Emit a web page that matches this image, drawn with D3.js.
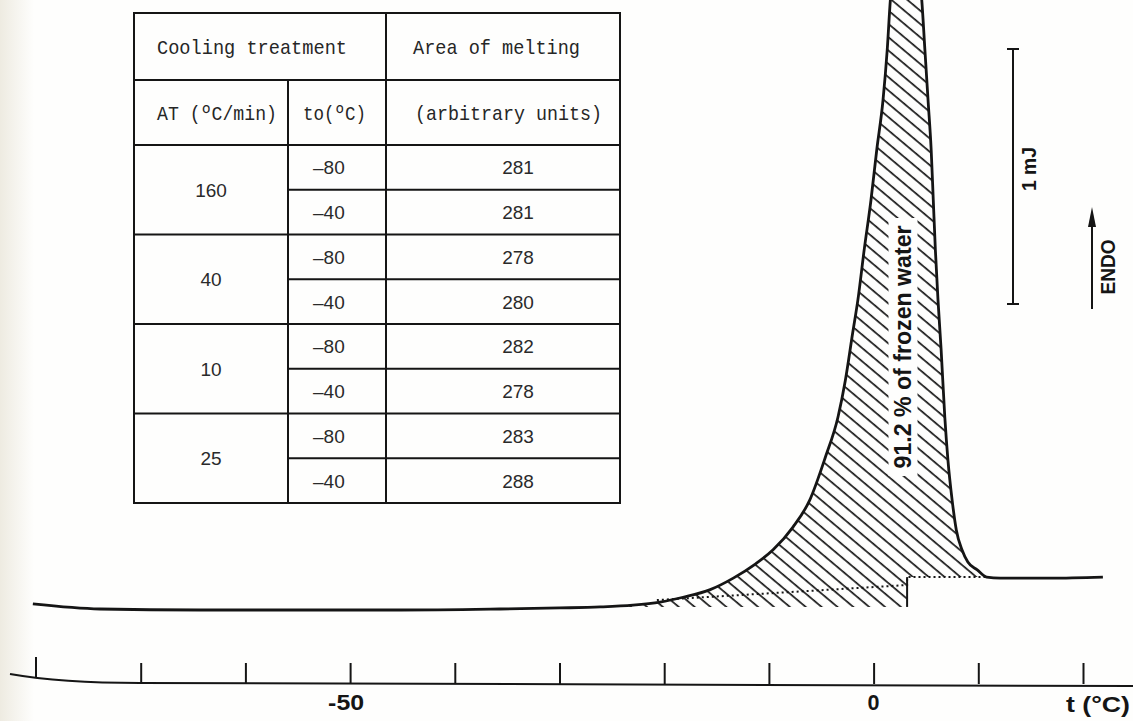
<!DOCTYPE html>
<html>
<head>
  <meta charset="utf-8">
  <title>DSC melting curve</title>
  <script src="https://d3js.org/d3.v7.min.js"></script>
  <style>
    body { margin: 0; background: #fefefd; }
    svg { display: block; }
  </style>
</head>
<body>
  <script>
    // melting endotherm (temperature in degC, heat flow in units of the 1 mJ bar)
    var curveTemps = [-80.3, -73.9, -64.3, -54.8, -45.2, -35.7, -30.0, -26.1, -23.0, -20.4,
      -18.2, -15.6, -13.4, -11.3, -9.6, -7.7, -6.1, -4.6, -3.4, -2.7,
      -2.0, -1.5, -0.9, -0.25, 0.3, 0.9, 1.3, 1.6, 2.0, 3.1,
      4.05, 4.6, 4.9, 5.2, 5.5, 5.7, 5.9, 6.15, 6.45, 6.8,
      7.1, 7.5, 7.9, 8.45, 9.0, 9.9, 10.8, 12.1, 16.9, 21.9];
    var curveHeat = [0.024, 0.004, 0, 0, 0, 0.004, 0.008, 0.012, 0.019, 0.031,
      0.050, 0.080, 0.125, 0.180, 0.236, 0.325, 0.431, 0.600, 0.757, 0.900,
      1.086, 1.216, 1.412, 1.608, 1.804, 2.0, 2.196, 2.392, 2.549, 2.627,
      2.549, 2.392, 2.196, 2.0, 1.804, 1.608, 1.412, 1.216, 1.02, 0.757,
      0.588, 0.431, 0.314, 0.235, 0.188, 0.157, 0.129, 0.125, 0.125, 0.129];

    // dotted interpolated baseline and the floor of the hatched area
    var baselineTemps = [-20.7, 3.2, 3.2, 10.8];
    var baselineHeat = [0.039, 0.098, 0.129, 0.129];
    var floorTemps = [-25, 3.2, 3.2, 12];
    var floorHeat = [0.012, 0.012, 0.129, 0.129];

    var axisTicks = [-80, -70, -60, -50, -40, -30, -20, -10, 0, 10, 20];
    var axisLabels = [-50, 0];
    var axisTitle = 't (°C)';
    var frozenLabel = '91.2 % of frozen water';
    var scaleLabel = '1 mJ';
    var endoLabel = 'ENDO';

    // inset table
    var headerTop = ['Cooling treatment', 'Area of melting'];
    var headerSub = ['AT (ºC/min)', 'to(ºC)', '(arbitrary units)'];
    var coolingRates = ['160', '40', '10', '25'];
    var endTemps = ['–80', '–40'];
    var meltAreas = [281, 281, 278, 280, 282, 278, 283, 288];

    var width = 1133, height = 721;
    var ink = '#151515';

    var svg = d3.select('body').append('svg')
      .attr('width', width)
      .attr('height', height);

    var defs = svg.append('defs');
    var edge = defs.append('linearGradient').attr('id', 'edge');
    edge.append('stop').attr('offset', '0%').attr('stop-color', '#eeebe1');
    edge.append('stop').attr('offset', '100%').attr('stop-color', '#fefefd');
    svg.append('rect').attr('width', width).attr('height', height).attr('fill', '#fefefd');
    svg.append('rect').attr('width', 34).attr('height', height).attr('fill', 'url(#edge)');

    var hatch = defs.append('pattern')
      .attr('id', 'hatch')
      .attr('patternUnits', 'userSpaceOnUse')
      .attr('width', 10.2)
      .attr('height', 10.2)
      .attr('patternTransform', 'rotate(-50)');
    hatch.append('line')
      .attr('x1', 2).attr('y1', -1).attr('x2', 2).attr('y2', 12)
      .attr('stroke', ink).attr('stroke-width', 1.7);

    var x = d3.scaleLinear().domain([-80, 20]).range([36, 1083]);
    var y = d3.scaleLinear().domain([0, 1]).range([610, 355]);

    var curve = curveTemps.map(function(t, i) { return [t, curveHeat[i]]; });

    // clip: everything above the step floor
    var floorPts = floorTemps.map(function(t, i) { return [x(t), y(floorHeat[i])]; });
    var clipPts = [[floorPts[0][0], -20]].concat(floorPts, [[floorPts[floorPts.length - 1][0], -20]]);
    defs.append('clipPath').attr('id', 'aboveFloor')
      .append('path').attr('d', 'M' + clipPts.join('L') + 'Z');

    var area = d3.area()
      .x(function(d) { return x(d[0]); })
      .y0(y(0))
      .y1(function(d) { return y(d[1]); })
      .curve(d3.curveMonotoneX);
    svg.append('path')
      .datum(curve)
      .attr('d', area)
      .attr('fill', 'url(#hatch)')
      .attr('clip-path', 'url(#aboveFloor)');

    // label in the peak, on a clear band
    var lab = svg.append('g').attr('transform', 'translate(903,347) rotate(-90)');
    lab.append('rect')
      .attr('x', -129).attr('y', -14.5).attr('width', 258).attr('height', 29)
      .attr('fill', '#fefefd');
    lab.append('text')
      .text(frozenLabel)
      .attr('text-anchor', 'middle')
      .attr('dy', '0.36em')
      .attr('textLength', 243)
      .attr('lengthAdjust', 'spacingAndGlyphs')
      .style('font', 'bold 23px "Liberation Sans", Arial, sans-serif')
      .attr('fill', ink);

    var line = d3.line()
      .x(function(d) { return x(d[0]); })
      .y(function(d) { return y(d[1]); });

    svg.append('path')
      .datum(baselineTemps.map(function(t, i) { return [t, baselineHeat[i]]; }))
      .attr('d', line)
      .attr('fill', 'none')
      .attr('stroke', ink)
      .attr('stroke-width', 2)
      .attr('stroke-dasharray', '2,3');

    svg.append('line')
      .attr('x1', x(floorTemps[1])).attr('x2', x(floorTemps[2]))
      .attr('y1', y(floorHeat[1])).attr('y2', y(floorHeat[2]))
      .attr('stroke', ink).attr('stroke-width', 2);

    svg.append('path')
      .datum(curve)
      .attr('d', line.curve(d3.curveMonotoneX))
      .attr('fill', 'none')
      .attr('stroke', ink)
      .attr('stroke-width', 2.8)
      .attr('stroke-linejoin', 'round');

    // 1 mJ scale bar
    var barBottom = 1.2;
    var bar = svg.append('g').attr('stroke', ink).attr('stroke-width', 2);
    bar.append('line').attr('x1', 1013).attr('x2', 1013).attr('y1', y(barBottom)).attr('y2', y(barBottom + 1));
    bar.append('line').attr('x1', 1007).attr('x2', 1019).attr('y1', y(barBottom)).attr('y2', y(barBottom));
    bar.append('line').attr('x1', 1007).attr('x2', 1019).attr('y1', y(barBottom + 1)).attr('y2', y(barBottom + 1));
    svg.append('text')
      .text(scaleLabel)
      .attr('transform', 'translate(1028,169) rotate(-90)')
      .attr('text-anchor', 'middle')
      .attr('dy', '0.36em')
      .attr('textLength', 44)
      .attr('lengthAdjust', 'spacingAndGlyphs')
      .style('font', 'bold 21px "Liberation Sans", Arial, sans-serif')
      .attr('fill', ink);

    // ENDO arrow
    svg.append('line')
      .attr('x1', 1092).attr('x2', 1092).attr('y1', 309).attr('y2', 222)
      .attr('stroke', ink).attr('stroke-width', 2);
    svg.append('path')
      .attr('d', 'M1092,207 L1096,227 L1088,227 Z')
      .attr('fill', ink);
    svg.append('text')
      .text(endoLabel)
      .attr('transform', 'translate(1107,267) rotate(-90)')
      .attr('text-anchor', 'middle')
      .attr('dy', '0.36em')
      .attr('textLength', 55)
      .attr('lengthAdjust', 'spacingAndGlyphs')
      .style('font', 'bold 21px "Liberation Sans", Arial, sans-serif')
      .attr('fill', ink);

    // temperature axis, ticks pointing up
    var axisY = 684;
    var axisG = svg.append('g').attr('transform', 'translate(0,' + axisY + ')');
    axisG.call(d3.axisTop(x).tickValues(axisTicks).tickSize(21).tickSizeOuter(0).tickFormat(''));
    axisG.select('.domain').remove();
    axisG.selectAll('.tick line').attr('stroke', ink).attr('stroke-width', 2);
    axisG.selectAll('.tick')
      .filter(function(d) { return d === axisTicks[0]; })
      .attr('transform', 'translate(' + x(axisTicks[0]) + ',-6)');
    axisG.append('path')
      .attr('d', 'M10,-10 C50,-3 100,-1 140,-1 L1133,2')
      .attr('fill', 'none')
      .attr('stroke', ink)
      .attr('stroke-width', 2);

    svg.selectAll('text.tlab')
      .data(axisLabels)
      .enter().append('text')
      .attr('class', 'tlab')
      .text(function(d) { return String(d); })
      .attr('x', function(d) { return x(d) - (d < 0 ? 4 : 0); })
      .attr('y', 710)
      .attr('text-anchor', 'middle')
      .style('font', 'bold 22px "Liberation Sans", Arial, sans-serif')
      .attr('textLength', function(d) { return d < 0 ? 36 : 12; })
      .attr('lengthAdjust', 'spacingAndGlyphs')
      .attr('fill', ink);

    svg.append('text')
      .text(axisTitle)
      .attr('x', 1130)
      .attr('y', 712)
      .attr('text-anchor', 'end')
      .attr('textLength', 64)
      .attr('lengthAdjust', 'spacingAndGlyphs')
      .style('font', 'bold 22px "Liberation Sans", Arial, sans-serif')
      .attr('fill', ink);

    // table
    var colX = [134, 288, 386, 620];
    var headY = [13, 80, 145];
    var rows = d3.scaleBand().domain(d3.range(meltAreas.length)).range([145, 503]);
    var tableBottom = 503;
    var tbl = svg.append('g').attr('stroke', ink).attr('stroke-width', 2);
    tbl.append('rect')
      .attr('x', colX[0]).attr('y', headY[0])
      .attr('width', colX[3] - colX[0]).attr('height', tableBottom - headY[0])
      .attr('fill', 'none');
    tbl.append('line').attr('x1', colX[2]).attr('x2', colX[2]).attr('y1', headY[0]).attr('y2', tableBottom);
    tbl.append('line').attr('x1', colX[1]).attr('x2', colX[1]).attr('y1', headY[1]).attr('y2', tableBottom);
    tbl.selectAll('line.h')
      .data([headY[1], headY[2]])
      .enter().append('line')
      .attr('x1', colX[0]).attr('x2', colX[3])
      .attr('y1', function(d) { return d; }).attr('y2', function(d) { return d; });
    tbl.selectAll('line.r')
      .data(d3.range(1, meltAreas.length))
      .enter().append('line')
      .attr('x1', function(i) { return i % 2 === 0 ? colX[0] : colX[1]; })
      .attr('x2', colX[3])
      .attr('y1', function(i) { return rows(i); })
      .attr('y2', function(i) { return rows(i); });

    var mono = function(sel) {
      return sel.style('font', '21px "Liberation Mono", "DejaVu Sans Mono", monospace')
        .attr('fill', '#262626')
        .attr('lengthAdjust', 'spacingAndGlyphs');
    };
    mono(svg.append('text').text(headerTop[0]).attr('x', 157).attr('y', 54).attr('textLength', 190));
    mono(svg.append('text').text(headerTop[1]).attr('x', 413).attr('y', 54).attr('textLength', 167));
    mono(svg.append('text').text(headerSub[0]).attr('x', 157).attr('y', 120).attr('textLength', 120));
    mono(svg.append('text').text(headerSub[1]).attr('x', 303).attr('y', 120).attr('textLength', 63));
    mono(svg.append('text').text(headerSub[2]).attr('x', 415).attr('y', 120).attr('textLength', 187));

    var sans = '19px "Liberation Sans", Arial, sans-serif';
    svg.selectAll('text.rate')
      .data(coolingRates)
      .enter().append('text')
      .attr('class', 'rate')
      .text(function(d) { return d; })
      .attr('x', 211)
      .attr('y', function(d, i) { return rows(i * 2 + 1) + 7; })
      .attr('text-anchor', 'middle')
      .style('font', sans)
      .attr('fill', '#2a2a2a');
    svg.selectAll('text.to')
      .data(meltAreas)
      .enter().append('text')
      .attr('class', 'to')
      .text(function(d, i) { return endTemps[i % 2]; })
      .attr('x', 313)
      .attr('y', function(d, i) { return rows(i) + rows.bandwidth() / 2 + 7; })
      .style('font', sans)
      .attr('fill', '#2a2a2a');
    svg.selectAll('text.area')
      .data(meltAreas)
      .enter().append('text')
      .attr('class', 'area')
      .text(function(d) { return d; })
      .attr('x', 518)
      .attr('y', function(d, i) { return rows(i) + rows.bandwidth() / 2 + 7; })
      .attr('text-anchor', 'middle')
      .style('font', sans)
      .attr('fill', '#2a2a2a');
  </script>
</body>
</html>
